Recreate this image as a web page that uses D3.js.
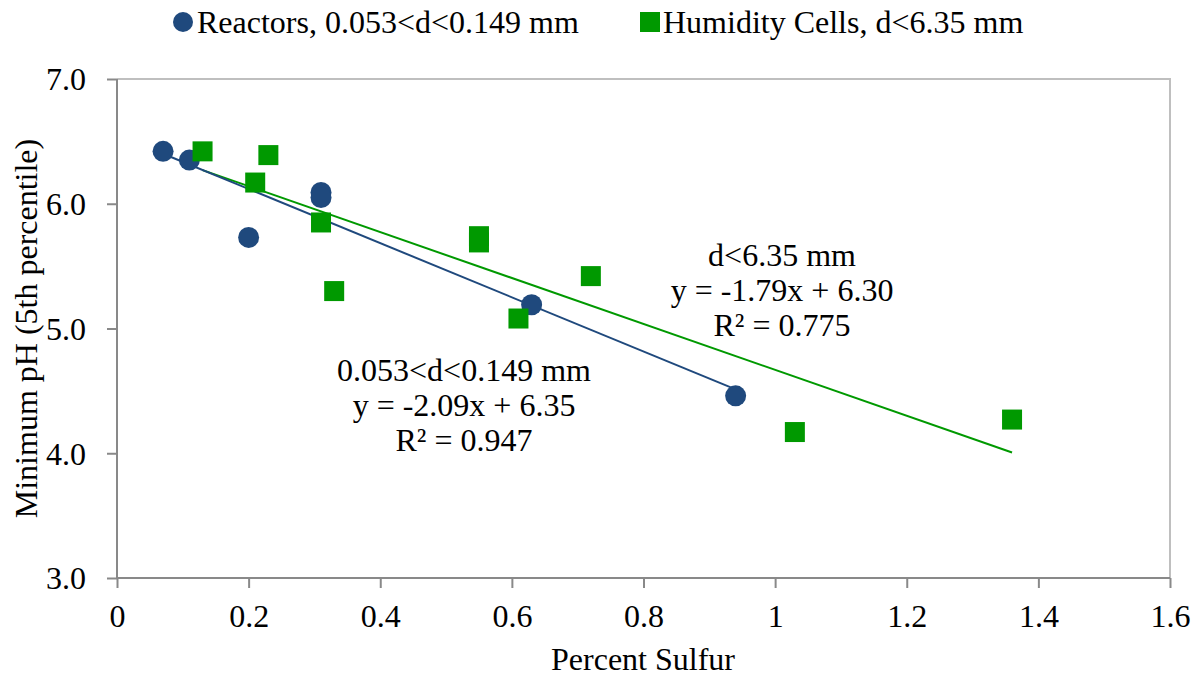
<!DOCTYPE html>
<html><head><meta charset="utf-8">
<script src="https://cdn.jsdelivr.net/npm/d3@7"></script>
<style>body{margin:0;background:#fff;} text{font-family:"Liberation Serif","Times New Roman",serif;fill:#000;}</style>
</head><body>
<svg id="c" width="1198" height="677"></svg>
<script>
const reactorX = [0.07, 0.11, 0.20, 0.31, 0.31, 0.63, 0.94];
const reactorY = [6.42, 6.35, 5.73, 6.09, 6.05, 5.19, 4.46];
const cellX = [0.13, 0.23, 0.21, 0.31, 0.33, 0.55, 0.55, 0.72, 0.61, 1.03, 1.36];
const cellY = [6.42, 6.39, 6.17, 5.85, 5.30, 5.74, 5.69, 5.42, 5.08, 4.17, 4.27];
const xTicks = [0, 0.2, 0.4, 0.6, 0.8, 1, 1.2, 1.4, 1.6];
const yTicks = [3, 4, 5, 6, 7];
const reactorLabel = ["0.053<d<0.149 mm", "y = -2.09x + 6.35", "R² = 0.947"];
const cellLabel = ["d<6.35 mm", "y = -1.79x + 6.30", "R² = 0.775"];
const legendNames = ["Reactors, 0.053<d<0.149 mm", "Humidity Cells, d<6.35 mm"];

const FS = "32px";
const svg = d3.select("#c");
const L = 117, R = 1170, T = 79, B = 578;
const x = d3.scaleLinear().domain([0, 1.6]).range([L, R]);
const y = d3.scaleLinear().domain([3, 7]).range([B, T]);
const blue = "#1F497D", green = "#009900";

// plot border (top/right)
svg.append("path").attr("d", `M${L},${T}H${R}V${B}`).attr("fill","none").attr("stroke","#bfbfbf").attr("stroke-width",2);

const fmtY = d3.format(".1f");
const xAxis = svg.append("g").attr("transform", `translate(0,${B})`)
  .call(d3.axisBottom(x).tickValues(xTicks).tickFormat(d => d === 0 ? "0" : d3.format("")(d)).tickSize(10));
const yAxis = svg.append("g").attr("transform", `translate(${L},0)`)
  .call(d3.axisLeft(y).tickValues(yTicks).tickFormat(fmtY).tickSize(10).tickPadding(21));
[xAxis, yAxis].forEach(a => {
  a.select(".domain").attr("stroke","#898989").attr("stroke-width",2);
  a.selectAll(".tick line").attr("stroke","#898989").attr("stroke-width",2);
  a.selectAll(".tick text").style("font-family","Liberation Serif, serif").style("font-size",FS).attr("fill","#000");
});
xAxis.select(".domain").attr("d", `M${L},0H${R}`);
yAxis.select(".domain").attr("d", `M0,${B}V${T}`);
yAxis.selectAll(".tick text").attr("dy","0.34em");
xAxis.selectAll(".tick text").attr("y", 49).attr("dy", 0);

// regression lines
function fit(xs, ys) {
  const mx = d3.mean(xs), my = d3.mean(ys);
  let sxy = 0, sxx = 0;
  xs.forEach((v, i) => { sxy += (v - mx) * (ys[i] - my); sxx += (v - mx) ** 2; });
  const m = sxy / sxx, b = my - m * mx;
  const x0 = d3.min(xs), x1 = d3.max(xs);
  return [[x0, m * x0 + b], [x1, m * x1 + b]];
}
const line = d3.line().x(d => x(d[0])).y(d => y(d[1]));
svg.append("path").attr("d", line(fit(cellX, cellY))).attr("stroke", green).attr("stroke-width", 2).attr("fill","none");
svg.append("path").attr("d", line(fit(reactorX, reactorY))).attr("stroke", blue).attr("stroke-width", 2).attr("fill","none");

// markers
svg.append("g").selectAll("circle").data(reactorX).join("circle")
  .attr("cx", d => x(d)).attr("cy", (d, i) => y(reactorY[i])).attr("r", 10.5).attr("fill", blue);
svg.append("g").selectAll("rect").data(cellX).join("rect")
  .attr("x", d => x(d) - 10).attr("y", (d, i) => y(cellY[i]) - 10).attr("width", 20).attr("height", 20).attr("fill", green);

// annotations
function annot(lines, cx, cy0) {
  const t = svg.append("text").attr("text-anchor","middle").style("font-size",FS);
  lines.forEach((s, i) => t.append("tspan").attr("x", cx).attr("y", cy0 + i * 35).text(s));
}
annot(cellLabel, 782, 266);
annot(reactorLabel, 464, 381);

// axis titles
svg.append("text").attr("x", 643).attr("y", 670).attr("text-anchor","middle").style("font-size",FS).text("Percent Sulfur");
svg.append("text").attr("transform", `translate(37,${(T + B) / 2}) rotate(-90)`).attr("text-anchor","middle").style("font-size",FS).text("Minimum pH (5th percentile)");

// legend
svg.append("circle").attr("cx", 183).attr("cy", 22).attr("r", 10).attr("fill", blue);
svg.append("text").attr("x", 197).attr("y", 33).style("font-size",FS).text(legendNames[0]);
svg.append("rect").attr("x", 640).attr("y", 12).attr("width", 20).attr("height", 20).attr("fill", green);
svg.append("text").attr("x", 663).attr("y", 33).style("font-size",FS).text(legendNames[1]);
</script>
</body></html>
